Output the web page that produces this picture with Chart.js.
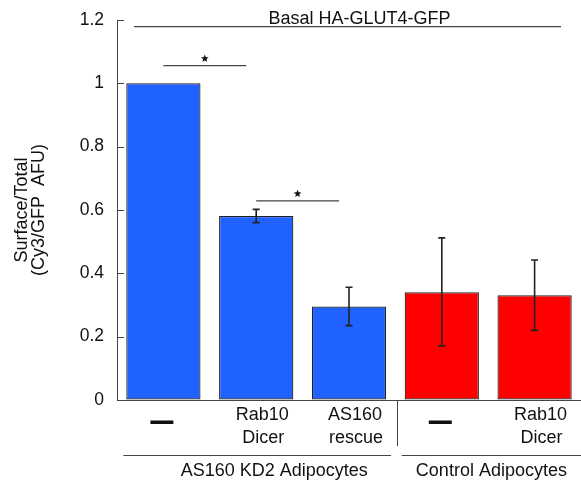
<!DOCTYPE html>
<html><head><meta charset="utf-8">
<script src="https://cdn.jsdelivr.net/npm/chart.js@4/dist/chart.umd.min.js"></script>
<style>html,body{margin:0;padding:0;background:#fff;overflow:hidden}#wrap{width:581px;height:481px;position:relative}</style>
</head><body><div id="wrap"><canvas id="c"></canvas></div>
<script>
// ---- data ----
const categories = ['—', ['Rab10','Dicer'], ['AS160','rescue'], '—', ['Rab10','Dicer']];
const means = [1.0, 0.581, 0.295, 0.340, 0.331];
const errUpper = [null, 0.602, 0.356, 0.512, 0.442];
const errLower = [null, 0.560, 0.235, 0.171, 0.220];
const barColors = ['#1f62ff','#1f62ff','#1f62ff','#ff0000','#ff0000'];
const yTicks = [0, 0.2, 0.4, 0.6, 0.8, 1, 1.2];
const groupLabels = ['AS160 KD2 Adipocytes', 'Control Adipocytes'];
const groupFrom = [0, 3];
const groupTo = [2, 4];
const sigFrom = [0, 1];
const sigTo = [1, 2];
const sigLevel = [1.056, 0.629];
const basalLabel = 'Basal HA-GLUT4-GFP';
const basalLevel = 1.179;
const yTitle = ['Surface/Total', '(Cy3/GFP  AFU)'];

// ---- style ----
const FONT = '"Liberation Sans", Arial, Helvetica, sans-serif';
const TXT = '#111';
const LINE = '#444';
const LBL = '18px ' + FONT;

function star(ctx, cx, cy, r) {
  ctx.beginPath();
  for (let k = 0; k < 10; k++) {
    const rr = k % 2 === 0 ? r : r * 0.45;
    const a = -Math.PI / 2 + k * Math.PI / 5;
    const px = cx + rr * Math.cos(a), py = cy + rr * Math.sin(a);
    k === 0 ? ctx.moveTo(px, py) : ctx.lineTo(px, py);
  }
  ctx.closePath();
  ctx.fill();
}

const decor = {
  id: 'decor',
  afterDatasetsDraw(chart) {
    const ctx = chart.ctx, xs = chart.scales.x, ys = chart.scales.y, ca = chart.chartArea;
    ctx.save();
    // inward tick marks
    ctx.strokeStyle = LINE; ctx.lineWidth = 1;
    yTicks.forEach(v => {
      const y = Math.round(ys.getPixelForValue(v)) + 0.5;
      ctx.beginPath(); ctx.moveTo(ca.left, y); ctx.lineTo(ca.left + 7, y); ctx.stroke();
    });
    // error bars
    ctx.strokeStyle = '#222'; ctx.lineWidth = 1.6;
    means.forEach((m, i) => {
      if (errUpper[i] == null) return;
      const x = xs.getPixelForValue(i);
      const yt = ys.getPixelForValue(errUpper[i]), yb = ys.getPixelForValue(errLower[i]);
      ctx.beginPath();
      ctx.moveTo(x, yt); ctx.lineTo(x, yb);
      ctx.moveTo(x - 3.5, yt); ctx.lineTo(x + 3.5, yt);
      ctx.moveTo(x - 3.5, yb); ctx.lineTo(x + 3.5, yb);
      ctx.stroke();
    });
    // significance brackets
    ctx.strokeStyle = LINE; ctx.lineWidth = 1.3; ctx.fillStyle = '#111';
    sigLevel.forEach((lv, k) => {
      const x1 = xs.getPixelForValue(sigFrom[k]);
      const x2 = xs.getPixelForValue(sigTo[k]) - 10;
      const y = ys.getPixelForValue(lv);
      ctx.beginPath(); ctx.moveTo(x1, y); ctx.lineTo(x2, y); ctx.stroke();
      star(ctx, (x1 + x2) / 2, y - 7, 4);
    });
    // basal line + label
    const by = ys.getPixelForValue(basalLevel);
    const bx1 = ca.left + 17, bx2 = ca.right - 20;
    ctx.beginPath(); ctx.moveTo(bx1, by); ctx.lineTo(bx2, by); ctx.stroke();
    ctx.fillStyle = TXT; ctx.font = LBL;
    ctx.textAlign = 'center'; ctx.textBaseline = 'alphabetic';
    ctx.fillText(basalLabel, (bx1 + bx2) / 2 + 12, by - 2.5);
    // y axis title
    ctx.save();
    ctx.translate(0, (ca.top + ca.bottom) / 2);
    ctx.rotate(-Math.PI / 2);
    ctx.textBaseline = 'middle';
    ctx.fillText(yTitle[0], 0, 22);
    ctx.fillText(yTitle[1], 0, 39);
    ctx.restore();
    // x category labels
    categories.forEach((lab, i) => {
      const x = xs.getPixelForValue(i);
      if (lab === '—') {
        ctx.fillRect(x - 13, ca.bottom + 20.5, 23, 3.5);
      } else {
        ctx.fillText(lab[0], x + 6, ca.bottom + 20);
        ctx.fillText(lab[1], x + 7, ca.bottom + 43);
      }
    });
    // separator between groups
    ctx.strokeStyle = LINE; ctx.lineWidth = 1;
    const sx = Math.round((xs.getPixelForValue(groupTo[0]) + xs.getPixelForValue(groupFrom[1])) / 2) + 2.5;
    ctx.beginPath(); ctx.moveTo(sx, ca.bottom); ctx.lineTo(sx, ca.bottom + 46); ctx.stroke();
    // group lines + labels
    const gdx = [17, 0];
    groupLabels.forEach((g, k) => {
      const x1 = xs.getPixelForValue(groupFrom[k]) - 40;
      const x2 = Math.min(xs.getPixelForValue(groupTo[k]) + 42 + k * 10, chart.width);
      const gy = ca.bottom + 55.5;
      ctx.beginPath(); ctx.moveTo(x1, gy); ctx.lineTo(x2, gy); ctx.stroke();
      ctx.fillText(g, (x1 + x2) / 2 + gdx[k], ca.bottom + 76);
    });
    ctx.restore();
  }
};

new Chart(document.getElementById('c'), {
  type: 'bar',
  data: {
    labels: categories,
    datasets: [{
      data: means,
      backgroundColor: barColors,
      borderColor: '#222',
      borderWidth: 1.2,
      borderSkipped: false,
      categoryPercentage: 1,
      barPercentage: 0.8
    }]
  },
  options: {
    responsive: true,
    maintainAspectRatio: false,
    animation: false,
    devicePixelRatio: 1,
    layout: { padding: { top: 20, left: 0, right: 0, bottom: 0 } },
    plugins: { legend: { display: false }, tooltip: { enabled: false } },
    scales: {
      x: {
        ticks: { display: false },
        grid: { display: true, drawOnChartArea: false, drawTicks: false },
        border: { display: true, color: LINE, width: 1 },
        afterFit(s) { s.height = 81; s.paddingLeft = 0; s.paddingRight = 0; }
      },
      y: {
        min: 0, max: 1.2,
        afterBuildTicks(s) { s.ticks = yTicks.map(v => ({ value: v })); },
        ticks: {
          padding: 13,
          color: TXT,
          font: { family: FONT, size: 17.5 },
          callback: v => String(Math.round(v * 10) / 10)
        },
        grid: { display: true, drawOnChartArea: false, drawTicks: false },
        border: { display: true, color: LINE, width: 1 },
        afterFit(s) { s.width = 117; s.paddingTop = 0; s.paddingBottom = 0; }
      }
    }
  },
  plugins: [decor]
});
</script>
</body></html>
